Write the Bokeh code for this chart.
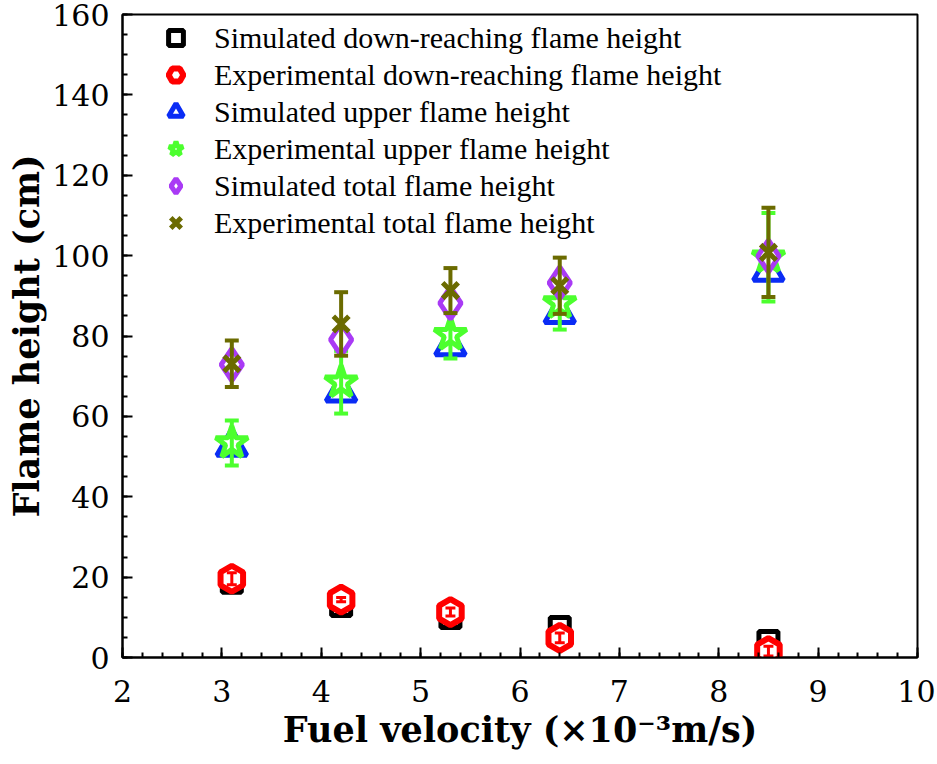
from bokeh.plotting import figure
from bokeh.models import FixedTicker
from bokeh.embed import file_html
from bokeh.resources import INLINE
import numpy as np

velocity = [3.1, 4.2, 5.3, 6.4, 8.5]

sim_down = [18.6, 12.8, 9.8, 7.6, 4.1]
exp_down = [19.6, 14.4, 11.3, 4.9, 1.6]
exp_down_err = [1.5, 0.5, 1.0, 1.2, 1.2]

sim_upper = [52.5, 66.0, 77.5, 85.5, 96.0]
exp_upper = [53.4, 68.5, 80.3, 88.2, 99.6]
exp_upper_err = [5.6, 7.8, 5.9, 6.6, 11.0]

sim_total = [72.9, 79.1, 88.2, 93.2, 99.9]
exp_total = [73.1, 83.0, 91.3, 92.5, 100.8]
exp_total_err = [5.8, 7.9, 5.6, 7.0, 11.1]

x_ticks = [2, 3, 4, 5, 6, 7, 8, 9, 10]
y_ticks = [0, 20, 40, 60, 80, 100, 120, 140, 160]

LEGEND_FONT = "Liberation Serif"
AXIS_FONT = "DejaVu Serif"  # the axes fall back to sans with Liberation Serif

p = figure(
    width=935,
    height=762,
    x_range=(2, 10),
    y_range=(0, 160),
    output_backend="svg",
    toolbar_location=None,
    min_border_left=122,
    min_border_right=18,
    min_border_top=14,
    min_border_bottom=105,
)
p.grid.visible = False
p.outline_line_color = "black"
p.outline_line_width = 2
p.background_fill_color = "white"
p.border_fill_color = "white"


def add_errors(y, err, color, width=4, cap=0.07):
    lo = [a - b for a, b in zip(y, err)]
    hi = [a + b for a, b in zip(y, err)]
    left = [v - cap for v in velocity]
    right = [v + cap for v in velocity]
    p.segment(x0=velocity, y0=lo, x1=velocity, y1=hi, line_color=color, line_width=width)
    p.segment(x0=left, y0=hi, x1=right, y1=hi, line_color=color, line_width=width)
    p.segment(x0=left, y0=lo, x1=right, y1=lo, line_color=color, line_width=width)


# down-reaching flame
p.scatter(velocity, sim_down, marker="square", size=19, line_color="black",
          line_width=5, fill_color="white",
          legend_label="Simulated down-reaching flame height")
p.scatter(velocity, exp_down, marker="hex", angle=np.pi / 6, size=26,
          line_color="#FF0000", line_width=6, fill_color="white",
          legend_label="Experimental down-reaching flame height")
add_errors(exp_down, exp_down_err, "#FF0000", width=3, cap=0.05)

# upper flame
p.scatter(velocity, sim_upper, marker="triangle", size=30, line_color="#0A2CF5",
          line_width=5, fill_color="white",
          legend_label="Simulated upper flame height")
p.scatter(velocity, exp_upper, marker="star", size=34, line_color="#4CFF2E",
          line_width=5, fill_color="white",
          legend_label="Experimental upper flame height")
add_errors(exp_upper, exp_upper_err, "#4CFF2E")

# total flame
p.scatter(velocity, sim_total, marker="diamond", size=32, line_color="#A93AF5",
          line_width=5, fill_color="white",
          legend_label="Simulated total flame height")
p.scatter(velocity, exp_total, marker="x", size=22, line_color="#6B6B00",
          line_width=5, legend_label="Experimental total flame height")
add_errors(exp_total, exp_total_err, "#6B6B00")

# axes
xa = p.xaxis[0]
ya = p.yaxis[0]
for ax in (xa, ya):
    ax.axis_line_color = "black"
    ax.axis_line_width = 2
    ax.major_tick_in = 10
    ax.major_tick_out = 0
    ax.minor_tick_in = 5
    ax.minor_tick_out = 0
    ax.major_tick_line_width = 2
    ax.minor_tick_line_width = 2
    ax.major_tick_line_color = "black"
    ax.minor_tick_line_color = "black"
    ax.major_label_text_font = AXIS_FONT
    ax.major_label_text_font_size = "30px"
    ax.major_label_text_color = "black"
    ax.axis_label_text_font = AXIS_FONT
    ax.axis_label_text_font_size = "35px"
    ax.axis_label_text_font_style = "bold"
    ax.axis_label_text_color = "black"

xa.ticker = FixedTicker(ticks=x_ticks,
                        minor_ticks=[2 + 0.2 * i for i in range(41)])
ya.ticker = FixedTicker(ticks=y_ticks, minor_ticks=list(range(0, 161, 5)))
xa.major_label_standoff = 22
ya.major_label_standoff = 13
xa.axis_label = "Fuel velocity (\u00d710\u207b\u00b3m/s)"
ya.axis_label = "Flame height (cm)"
xa.axis_label_standoff = 4
ya.axis_label_standoff = 2

# legend
lg = p.legend[0]
lg.location = (35, 416)
lg.background_fill_alpha = 0
lg.border_line_alpha = 0
lg.padding = 0
lg.margin = 0
lg.glyph_width = 37
lg.glyph_height = 37
lg.label_height = 37
lg.spacing = 0
lg.label_standoff = 20
lg.label_text_font = LEGEND_FONT
lg.label_text_font_size = "30px"
lg.label_text_color = "black"

open("out.html", "w").write(file_html(p, INLINE))
